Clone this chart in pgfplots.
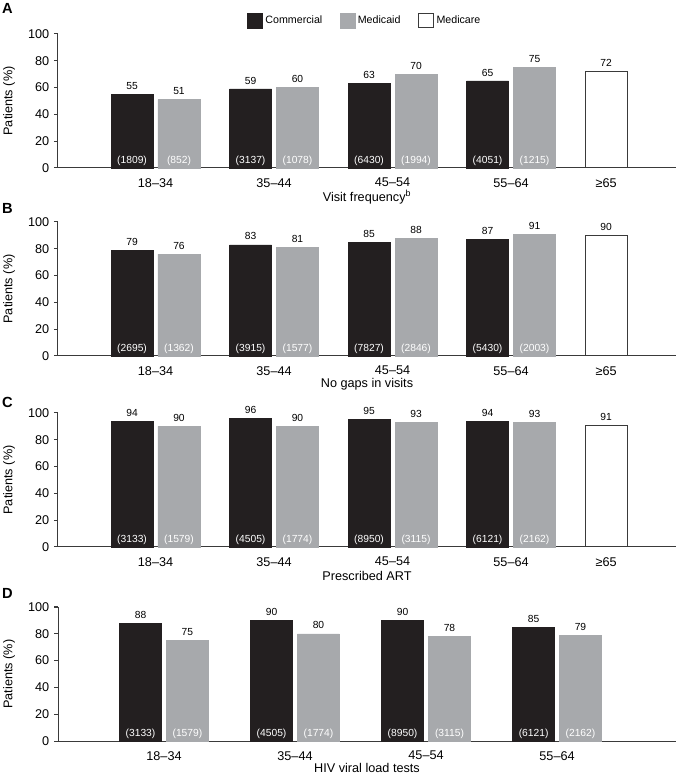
\documentclass[border=0pt]{standalone}
\usepackage{fontspec}
\setmainfont{Liberation Sans}
\usepackage{pgfplots}
\pgfplotsset{compat=1.18}
\usepackage{pgfplotstable}

\definecolor{comm}{HTML}{231F20}
\definecolor{medi}{HTML}{A7A9AC}
\definecolor{axc}{HTML}{3A3A3A}

\newcommand{\valfont}{\fontsize{7.7}{9}\selectfont}
\newcommand{\tickfont}{\fontsize{9.5}{11}\selectfont}

\pgfplotstableread{
x com med ncom nmed
0 55 51 1809 852
1 59 60 3137 1078
2 63 70 6430 1994
3 65 75 4051 1215
}\dataA
\pgfplotstableread{
x com med ncom nmed
0 79 76 2695 1362
1 83 81 3915 1577
2 85 88 7827 2846
3 87 91 5430 2003
}\dataB
\pgfplotstableread{
x com med ncom nmed
0 94 90 3133 1579
1 96 90 4505 1774
2 95 93 8950 3115
3 94 93 6121 2162
}\dataC
\pgfplotstableread{
x com med ncom nmed
0 88 75 3133 1579
1 90 80 4505 1774
2 90 78 8950 3115
3 85 79 6121 2162
}\dataD

\pgfplotsset{
  /pgf/number format/assume math mode=true,
  panel/.style={
    scale only axis, width=463.5pt, height=100.5pt,
    anchor=south west,
    ymin=0, ymax=100, ytick={0,20,...,100},
    axis x line*=bottom, axis y line*=left,
    axis line style={axc, line width=0.75pt, -},
    ytick style={axc, line width=0.75pt},
    tick align=outside, major tick length=3pt,
    xtick style={draw=none},
    ylabel={Patients (\%)},
    every axis y label/.style={at={(axis description cs:-0.079,0.5)}, rotate=90, anchor=center, font=\tickfont},
    every axis x label/.style={at={(axis description cs:0.5,0)}, anchor=center, yshift=-21.5pt, font=\tickfont},
    tick label style={font=\tickfont},
    xticklabel style={anchor=center, yshift=-8pt},
    ybar, bar width=31.5pt, bar shift=0pt,
    clip=false,
  },
  commbar/.style={fill=comm, draw=comm, bar shift=0pt, forget plot,
    nodes near coords, point meta=y,
    every node near coord/.append style={font=\valfont, text=black}},
  medibar/.style={fill=medi, draw=medi, bar shift=0pt, forget plot,
    nodes near coords, point meta=y,
    every node near coord/.append style={font=\valfont, text=black}},
  carebar/.style={fill=white, draw=axc, line width=0.75pt, bar shift=0pt, forget plot,
    nodes near coords, point meta=y,
    every node near coord/.append style={font=\valfont, text=black}},
  countbar/.style={fill=none, draw=none, bar shift=0pt, forget plot,
    point meta=explicit symbolic,
    nodes near coords={(\pgfplotspointmeta)},
    every node near coord/.append style={font=\valfont, text=white, anchor=south, inner sep=1.5pt}},
}

\begin{document}
\begin{tikzpicture}
\useasboundingbox (0,0) rectangle (507.75pt,580.5pt);

% Panel A
\begin{axis}[panel, at={(43.5pt,454.5pt)},
  xmin=-0.823, xmax=4.392,
  xtick={0,1,2,3,3.802},
  xticklabels={18–34,35–44,45–54,55–64,≥65},
  xlabel={Visit frequency\textsuperscript{b}},
  legend columns=3,
  legend image code/.code={\draw[#1] (0pt,-5.6pt) rectangle (11.25pt,5.6pt);},
  legend style={at={(0.497,1.1007)}, anchor=center, draw=none, fill=none,
    font=\fontsize{8}{10}\selectfont, /tikz/every even column/.append style={column sep=11pt}},
]
\addlegendimage{fill=comm, draw=comm}
\addlegendentry{Commercial}
\addlegendimage{fill=medi, draw=medi}
\addlegendentry{Medicaid}
\addlegendimage{fill=white, draw=axc, line width=0.75pt}
\addlegendentry{Medicare}
\addplot[commbar] table[x expr=\thisrow{x}-0.198, y=com] {\dataA};
\addplot[medibar] table[x expr=\thisrow{x}+0.198, y=med] {\dataA};
\addplot[carebar] coordinates {(3.802,72)};
\addplot[countbar] table[x expr=\thisrow{x}-0.198, y expr=0, meta=ncom] {\dataA};
\addplot[countbar] table[x expr=\thisrow{x}+0.198, y expr=0, meta=nmed] {\dataA};
\end{axis}

% Panel B
\begin{axis}[panel, at={(43.5pt,313.5pt)},
  xmin=-0.823, xmax=4.392,
  xtick={0,1,2,3,3.802},
  xticklabels={18–34,35–44,45–54,55–64,≥65},
  xlabel={No gaps in visits},
]
\addplot[commbar] table[x expr=\thisrow{x}-0.198, y=com] {\dataB};
\addplot[medibar] table[x expr=\thisrow{x}+0.198, y=med] {\dataB};
\addplot[carebar] coordinates {(3.802,90)};
\addplot[countbar] table[x expr=\thisrow{x}-0.198, y expr=0, meta=ncom] {\dataB};
\addplot[countbar] table[x expr=\thisrow{x}+0.198, y expr=0, meta=nmed] {\dataB};
\end{axis}

% Panel C
\begin{axis}[panel, at={(43.5pt,170.25pt)},
  xmin=-0.823, xmax=4.392,
  xtick={0,1,2,3,3.802},
  xticklabels={18–34,35–44,45–54,55–64,≥65},
  xlabel={Prescribed ART},
]
\addplot[commbar] table[x expr=\thisrow{x}-0.198, y=com] {\dataC};
\addplot[medibar] table[x expr=\thisrow{x}+0.198, y=med] {\dataC};
\addplot[carebar] coordinates {(3.802,91)};
\addplot[countbar] table[x expr=\thisrow{x}-0.198, y expr=0, meta=ncom] {\dataC};
\addplot[countbar] table[x expr=\thisrow{x}+0.198, y expr=0, meta=nmed] {\dataC};
\end{axis}

% Panel D
\begin{axis}[panel, at={(43.5pt,24.75pt)},
  xmin=-0.809, xmax=3.908,
  xtick={0,1,2,3},
  xticklabels={18–34,35–44,45–54,55–64},
  xlabel={HIV viral load tests},
  every axis x label/.append style={yshift=1.5pt},
]
\addplot[commbar] table[x expr=\thisrow{x}-0.179, y=com] {\dataD};
\addplot[medibar] table[x expr=\thisrow{x}+0.179, y=med] {\dataD};
\addplot[countbar] table[x expr=\thisrow{x}-0.179, y expr=0, meta=ncom] {\dataD};
\addplot[countbar] table[x expr=\thisrow{x}+0.179, y expr=0, meta=nmed] {\dataD};
\end{axis}

\node[font=\fontsize{11}{13}\selectfont\bfseries] at (5.5pt,574.5pt) {A};
\node[font=\fontsize{11}{13}\selectfont\bfseries] at (5.5pt,424.5pt) {B};
\node[font=\fontsize{11}{13}\selectfont\bfseries] at (5.5pt,279pt) {C};
\node[font=\fontsize{11}{13}\selectfont\bfseries] at (5.5pt,135.75pt) {D};
\end{tikzpicture}
\end{document}
